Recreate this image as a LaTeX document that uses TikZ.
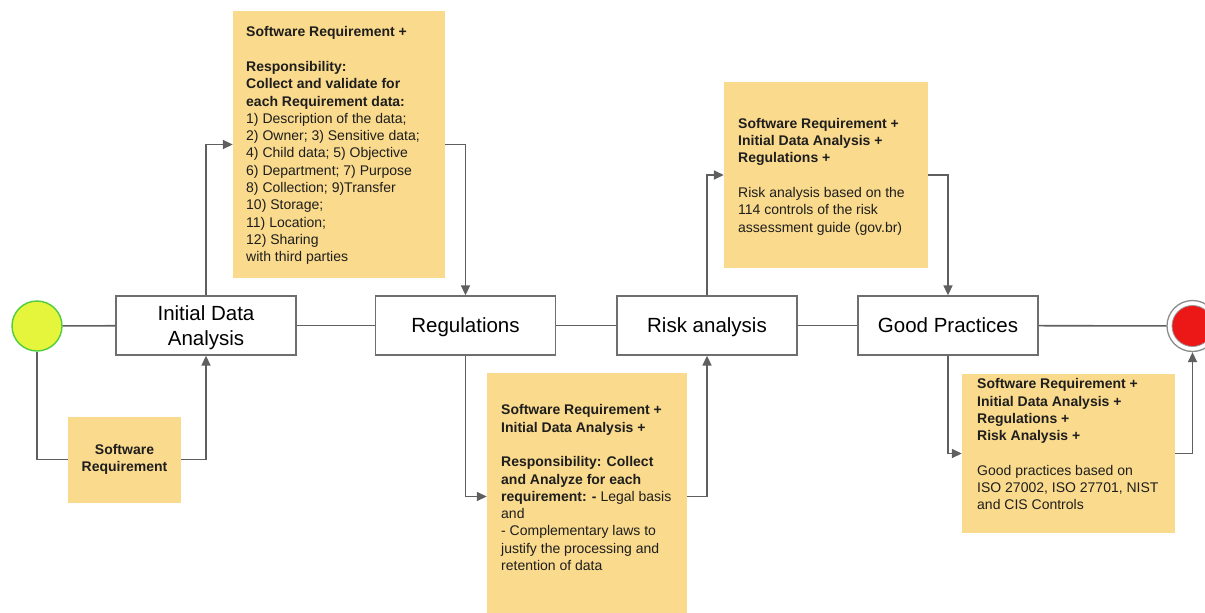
\documentclass[tikz,border=0pt]{standalone}
\usepackage{fontspec}
\setmainfont{Liberation Sans}
\usetikzlibrary{arrows.meta}
\definecolor{notefill}{RGB}{250,218,140}
\definecolor{linegray}{RGB}{95,95,95}
\definecolor{boxgray}{RGB}{110,110,110}
\definecolor{textdark}{RGB}{30,30,30}
\definecolor{startfill}{RGB}{228,245,60}
\definecolor{startline}{RGB}{80,205,60}
\definecolor{stopfill}{RGB}{236,24,24}
\begin{document}
\begin{tikzpicture}[x=1pt,y=-1pt,
  stepbox/.style={draw=boxgray, line width=1.3pt, fill=white, minimum width=180pt,
    minimum height=59pt, inner sep=0pt, align=center, text depth=0pt,
    font=\fontsize{20.5}{25.5}\selectfont},
  notebox/.style={fill=notefill, inner sep=0pt},
  notetext/.style={anchor=north west, inner sep=0pt, align=left, text=textdark,
    font=\fontsize{14}{17.3}\selectfont},
  flow/.style={draw=linegray, line width=1.6pt},
  arr/.style={flow, -{Triangle[length=10pt,width=9pt]}}]
\useasboundingbox (0,0) rectangle (1205,613);
\begin{scope}
\clip (0,0) rectangle (1205,613);

% events
\node[circle, draw=startline, line width=1.4pt, fill=startfill, minimum size=50pt, inner sep=0pt] (startev) at (37,326) {};
\node[circle, draw=boxgray!80, line width=1.3pt, fill=white, minimum size=51pt, inner sep=0pt] (endev) at (1192.5,326) {};
\node[circle, draw=boxgray!70, line width=0.8pt, fill=stopfill, minimum size=41pt, inner sep=0pt] (endcore) at (endev.center) {};

% process steps
\node[stepbox] (ida)  at (206,325.5) {Initial Data\\Analysis};
\node[stepbox] (reg)  at (465.5,325.5) {Regulations};
\node[stepbox] (risk) at (707,325.5) {Risk analysis};
\node[stepbox] (gp)   at (948,325.5) {Good Practices};

% notes
\node[notebox, minimum width=113pt, minimum height=86pt, align=center, text=textdark,
  font=\fontsize{14}{17}\selectfont\bfseries] (sr) at (124.5,459.5) {Software\\Requirement};
\node[notebox, minimum width=212pt, minimum height=267pt] (b1) at (339,144.5) {};
\node[notebox, minimum width=200pt, minimum height=247pt] (b2) at (587,496.5) {};
\node[notebox, minimum width=204pt, minimum height=186pt] (b3) at (826,175) {};
\node[notebox, minimum width=213pt, minimum height=159pt] (b4) at (1068.5,453.5) {};

\node[notetext] (t1) at (246,26.5) {%
\textbf{Software Requirement +}\\[17.3pt]
\textbf{Responsibility:}\\
\textbf{Collect and validate for}\\
\textbf{each Requirement data:}\\
1) Description of the data;\\
2) Owner; 3) Sensitive data;\\
4) Child data; 5) Objective\\
6) Department; 7) Purpose\\
8) Collection; 9)Transfer\\
10) Storage;\\
11) Location;\\
12) Sharing\\
with third parties};

\node[notetext] (t2) at (501,404.5) {%
\textbf{Software Requirement +}\\
\textbf{Initial Data Analysis +}\\[17.3pt]
\textbf{Responsibility: Collect}\\
\textbf{and Analyze for each}\\
\textbf{requirement: -} Legal basis\\
and\\
- Complementary laws to\\
justify the processing and\\
retention of data};

\node[notetext] (t3) at (738,118) {%
\textbf{Software Requirement +}\\
\textbf{Initial Data Analysis +}\\
\textbf{Regulations +}\\[17.3pt]
Risk analysis based on the\\
114 controls of the risk\\
assessment guide (gov.br)};

\node[notetext] (t4) at (977,378.5) {%
\textbf{Software Requirement +}\\
\textbf{Initial Data Analysis +}\\
\textbf{Regulations +}\\
\textbf{Risk Analysis +}\\[17.3pt]
Good practices based on\\
ISO 27002, ISO 27701, NIST\\
and CIS Controls};

% main sequence
\draw[flow] (startev) -- (ida);
\draw[flow] (ida) -- (reg);
\draw[flow] (reg) -- (risk);
\draw[flow] (risk) -- (gp);
\draw[flow] (gp) -- (endev);

% inputs and outputs of each step
\draw[flow] (startev.south) |- (sr.west);
\draw[arr] (sr.east) -| (ida.south);
\draw[arr] (ida.north) |- (b1.west);
\draw[arr] (b1.east) -| (reg.north);
\draw[arr] (reg.south) |- (b2.west);
\draw[arr] (b2.east) -| (risk.south);
\draw[arr] (risk.north) |- (b3.west);
\draw[arr] (b3.east) -| (gp.north);
\draw[arr] (gp.south) |- (b4.west);
\draw[arr] (b4.east) -| (endev.south);
\end{scope}
\end{tikzpicture}
\end{document}
